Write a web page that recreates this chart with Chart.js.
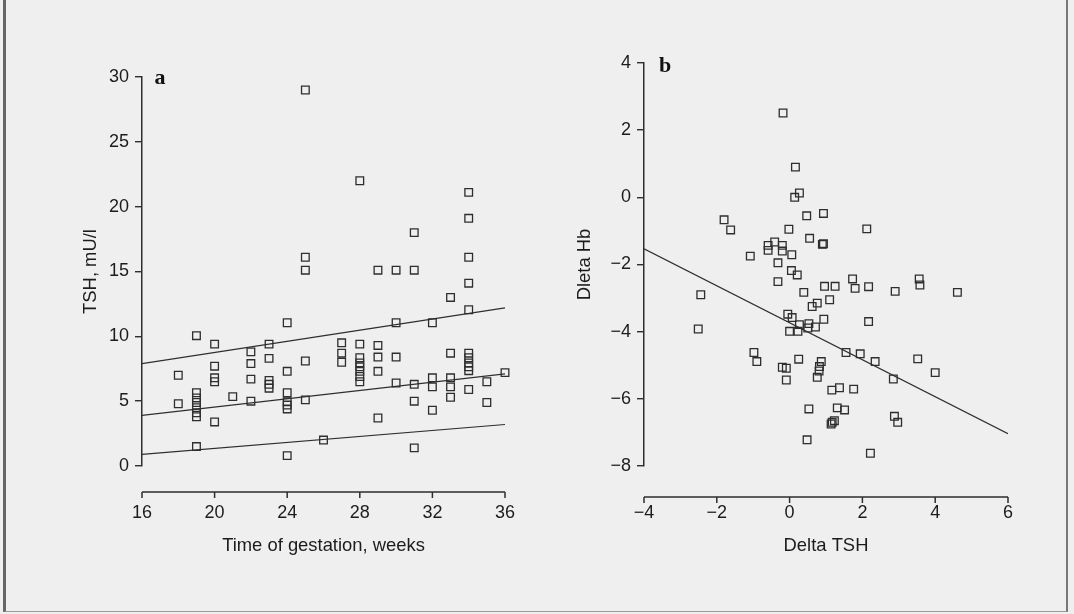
<!DOCTYPE html>
<html>
<head>
<meta charset="utf-8">
<title>TSH and Hb scatter</title>
<script src="https://cdn.jsdelivr.net/npm/chart.js@4.4.0/dist/chart.umd.min.js"></script>
<style>
  html, body { margin: 0; padding: 0; background: #efefef; }
  #page { position: relative; width: 1074px; height: 614px; overflow: hidden; background: #efefef; }
  #frame { position: absolute; left: 3px; top: 0; width: 1060px; height: 611px;
           border-left: 3px solid #666; border-right: 2px solid #777; border-bottom: 1px solid #999; }
  #boxA { position: absolute; left: 0; top: 0; }
  #boxB { position: absolute; left: 560px; top: 0; }
</style>
</head>
<body>
<div id="page">
  <div id="frame"></div>
  <canvas id="boxA" width="560" height="614"></canvas>
  <canvas id="boxB" width="514" height="614"></canvas>
</div>
<script>
// panel a: TSH against time of gestation
const weekA = [18, 18,
  19, 19, 19, 19, 19, 19, 19, 19,
  20, 20, 20, 20, 20,
  21,
  22, 22, 22, 22,
  23, 23, 23, 23, 23,
  24, 24, 24, 24, 24, 24, 24,
  25, 25, 25, 25, 25,
  26,
  27, 27, 27,
  28, 28, 28, 28, 28, 28, 28, 28,
  29, 29, 29, 29, 29,
  30, 30, 30, 30,
  31, 31, 31, 31, 31,
  32, 32, 32, 32,
  33, 33, 33, 33, 33,
  34, 34, 34, 34, 34, 34, 34, 34, 34, 34, 34,
  35, 35,
  36];
const tshA = [7.0, 4.8,
  10.05, 5.65, 5.25, 4.9, 4.5, 4.1, 3.8, 1.5,
  9.4, 7.7, 6.8, 6.5, 3.4,
  5.35,
  8.8, 7.9, 6.7, 5.0,
  9.4, 8.3, 6.6, 6.3, 6.0,
  11.05, 7.3, 5.65, 4.95, 4.7, 4.4, 0.8,
  29.0, 16.1, 15.1, 8.1, 5.1,
  2.0,
  9.5, 8.7, 8.0,
  22.0, 9.4, 8.35, 7.95, 7.65, 7.3, 6.9, 6.5,
  15.1, 9.3, 8.4, 7.3, 3.7,
  15.1, 11.05, 8.4, 6.4,
  18.0, 15.1, 6.3, 5.0, 1.4,
  11.05, 6.8, 6.1, 4.3,
  13.0, 8.7, 6.8, 6.1, 5.3,
  21.1, 19.1, 16.1, 14.1, 12.05, 8.7, 8.35, 7.95, 7.65, 7.35, 5.9,
  6.5, 4.9,
  7.2];
// regression line and its two limits, read at 16 and 36 weeks
const fitWeeks = [16, 36];
const upperFit = [7.9, 12.2];
const middleFit = [3.9, 7.1];
const lowerFit = [0.9, 3.2];

// panel b: change in Hb against change in TSH
const deltaTsh = [-0.18, 0.16, 0.27, 0.14, 0.47, 0.93, -0.02, 2.12, 0.55, 0.90, 0.93,
  -0.59, -0.59, -0.41, -0.20, -0.20, 0.06, -1.08, -0.32, 0.05, 0.21, -0.32,
  0.96, 1.25, 1.73, 1.80, 2.17, 0.39, 1.10, 0.76, 0.62, 2.17, -0.05, 0.07, 0.94,
  0.27, 0.53, 0.71, 0.00, 0.23, 0.50, 1.55, 1.94, 2.35, -0.98, -0.90, 0.25,
  -0.20, -0.09, 0.87, 0.82, 0.81, 0.76, -0.09, 1.16, 1.37, 1.76, 0.53, 1.31, 1.51,
  1.17, 1.23, 1.14, 0.48, 2.22, 2.90, 3.56, 3.58, 4.61, 3.52, 4.00, 2.85, 2.88, 2.97,
  -1.80, -1.62, -2.44, -2.51];
const deltaHb = [2.51, 0.90, 0.13, 0.00, -0.55, -0.48, -0.95, -0.94, -1.22, -1.40, -1.38,
  -1.43, -1.58, -1.33, -1.43, -1.60, -1.71, -1.75, -1.95, -2.18, -2.31, -2.51,
  -2.65, -2.65, -2.43, -2.71, -2.66, -2.83, -3.05, -3.15, -3.25, -3.70, -3.48, -3.58, -3.63,
  -3.79, -3.76, -3.86, -3.99, -3.99, -3.89, -4.62, -4.66, -4.89, -4.62, -4.89, -4.82,
  -5.06, -5.09, -4.89, -5.04, -5.17, -5.36, -5.44, -5.74, -5.67, -5.71, -6.30, -6.27, -6.33,
  -6.70, -6.65, -6.75, -7.22, -7.62, -2.80, -2.43, -2.61, -2.83, -4.81, -5.22, -5.41, -6.52, -6.70,
  -0.67, -0.97, -2.90, -3.92];
const fitDeltaTsh = [-4, 6];
const fitDeltaHb = [-1.53, -7.04];

const ink = '#2e2e2e';
const textInk = '#1c1c1c';
const tickFont = { family: '"Liberation Sans", Arial, sans-serif', size: 18 };
const titleFont = { family: '"Liberation Sans", Arial, sans-serif', size: 18.4 };

const pairs = (xs, ys) => xs.map((x, i) => ({ x: x, y: ys[i] }));
const minus = v => String(v).replace('-', '\u2212');

function squares(xs, ys) {
  return {
    data: pairs(xs, ys),
    pointStyle: 'rect',
    pointRadius: 5.4,
    pointBorderWidth: 1.3,
    pointBorderColor: ink,
    pointBackgroundColor: 'rgba(0,0,0,0)',
    showLine: false,
    clip: false
  };
}

function fitLine(xs, ys) {
  return {
    data: pairs(xs, ys),
    showLine: true,
    borderColor: ink,
    borderWidth: 1.2,
    pointRadius: 0,
    fill: false
  };
}

// x axis sits a little below the plot, so draw it here from the scale
const offsetAxis = {
  id: 'offsetAxis',
  afterDraw(chart, args, opts) {
    const { ctx, chartArea } = chart;
    const x = chart.scales.x;
    const y = chartArea.bottom + opts.gap;
    ctx.save();
    ctx.strokeStyle = ink;
    ctx.lineWidth = 1.5;
    ctx.beginPath();
    ctx.moveTo(x.getPixelForValue(x.min), y);
    ctx.lineTo(x.getPixelForValue(x.max), y);
    x.ticks.forEach(t => {
      const px = x.getPixelForValue(t.value);
      ctx.moveTo(px, y);
      ctx.lineTo(px, y + 6);
    });
    ctx.stroke();
    ctx.fillStyle = '#111';
    ctx.font = 'bold 22px "Liberation Serif", serif';
    ctx.textAlign = 'center';
    ctx.textBaseline = 'middle';
    ctx.fillText(opts.letter, chartArea.left + opts.letterDx, chartArea.top + opts.letterDy);
    ctx.restore();
  }
};

function makeOptions(cfg) {
  return {
    responsive: false,
    animation: false,
    layout: { padding: cfg.padding },
    plugins: {
      legend: { display: false },
      tooltip: { enabled: false },
      offsetAxis: { gap: cfg.gap, letter: cfg.letter, letterDx: cfg.letterDx, letterDy: cfg.letterDy }
    },
    scales: {
      x: {
        type: 'linear',
        min: cfg.xMin, max: cfg.xMax,
        ticks: { stepSize: cfg.xStep, padding: 36, color: textInk, font: tickFont, callback: minus },
        grid: { display: false, drawTicks: false },
        border: { display: false },
        title: { display: true, text: cfg.xTitle, color: textInk, font: titleFont, padding: { top: 0, bottom: 57 } },
        afterFit(s) { s.height = 148; }
      },
      y: {
        type: 'linear',
        min: cfg.yMin, max: cfg.yMax,
        ticks: { stepSize: cfg.yStep, padding: 6, color: textInk, font: tickFont, callback: minus },
        grid: { drawOnChartArea: false, drawTicks: true, tickLength: 7, color: ink, lineWidth: 1.4 },
        border: { display: true, color: ink, width: 1.5 },
        title: { display: true, text: cfg.yTitle, color: textInk, font: titleFont, padding: { top: cfg.yTitlePad } },
        afterFit(s) { s.width = cfg.yWidth; }
      }
    }
  };
}

new Chart(document.getElementById('boxA'), {
  type: 'scatter',
  data: {
    datasets: [
      squares(weekA, tshA),
      fitLine(fitWeeks, upperFit),
      fitLine(fitWeeks, middleFit),
      fitLine(fitWeeks, lowerFit)
    ]
  },
  options: makeOptions({
    padding: { left: 0, right: 55, top: 77, bottom: 0 },
    xMin: 16, xMax: 36, xStep: 4, xTitle: 'Time of gestation, weeks',
    yMin: 0, yMax: 30, yStep: 5, yTitle: 'TSH, mU/l', yTitlePad: 80, yWidth: 142,
    gap: 26, letter: 'a', letterDx: 18, letterDy: 1
  }),
  plugins: [offsetAxis]
});

new Chart(document.getElementById('boxB'), {
  type: 'scatter',
  data: {
    datasets: [
      squares(deltaTsh, deltaHb),
      fitLine(fitDeltaTsh, fitDeltaHb)
    ]
  },
  options: makeOptions({
    padding: { left: 0, right: 66, top: 63, bottom: 0 },
    xMin: -4, xMax: 6, xStep: 2, xTitle: 'Delta TSH',
    yMin: -8, yMax: 4, yStep: 2, yTitle: 'Dleta Hb', yTitlePad: 14, yWidth: 84,
    gap: 31, letter: 'b', letterDx: 21, letterDy: 3
  }),
  plugins: [offsetAxis]
});
</script>
</body>
</html>
